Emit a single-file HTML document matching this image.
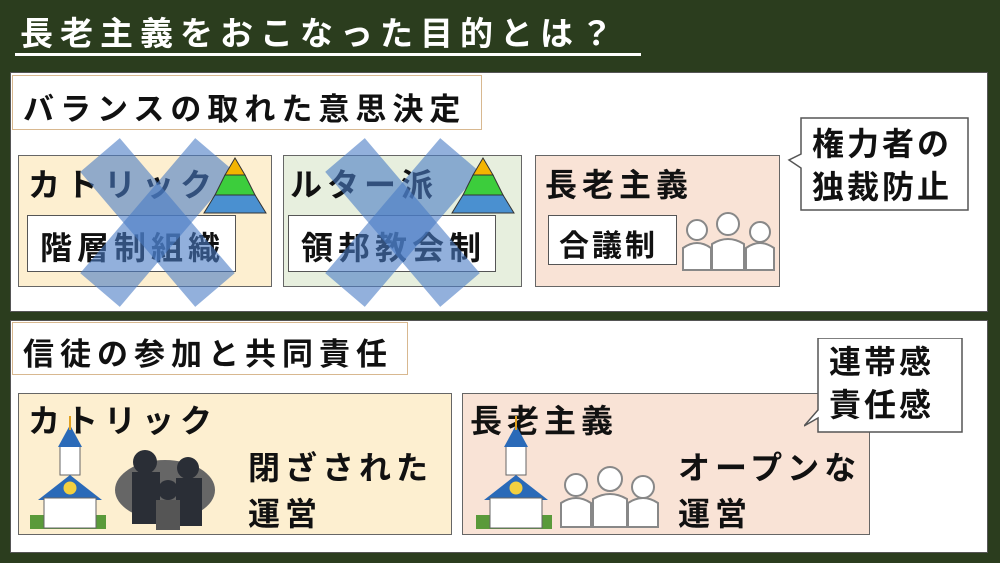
<!DOCTYPE html>
<html><head><meta charset="utf-8"><style>
body{margin:0;width:1000px;height:563px;background:#2b3d1e;position:relative;overflow:hidden;font-family:"Liberation Sans","Noto Sans CJK JP",sans-serif;}
.a{position:absolute;box-sizing:border-box;}
.t{white-space:nowrap;color:#111;font-weight:bold;letter-spacing:5px;}
</style></head><body>
<div class="a t" style="left:20px;top:7px;font-size:33px;color:#fff;letter-spacing:7px">長老主義をおこなった目的とは？</div>
<div class="a" style="left:15px;top:53px;width:626px;height:3px;background:#fff"></div>

<div class="a" style="left:10px;top:72px;width:978px;height:240px;background:#fff;border:1px solid #555"></div>
<div class="a t" style="left:12px;top:75px;width:470px;height:55px;background:#fff;border:1.5px solid #d8b890;font-size:31px;padding:8px 0 0 10px;letter-spacing:6px">バランスの取れた意思決定</div>

<div class="a" style="left:18px;top:155px;width:254px;height:132px;background:#fdefd0;border:1px solid #666"></div>
<div class="a t" style="left:28px;top:160px;font-size:32px;letter-spacing:6px">カトリック</div>
<div class="a t" style="left:27px;top:215px;width:209px;height:57px;background:#fff;border:1px solid #555;font-size:32px;padding:7px 0 0 12px">階層制組織</div>

<div class="a" style="left:283px;top:155px;width:239px;height:132px;background:#e7efde;border:1px solid #666"></div>
<div class="a t" style="left:290px;top:160px;font-size:32px">ルター派</div>
<div class="a t" style="left:288px;top:215px;width:208px;height:57px;background:#fff;border:1px solid #555;font-size:32px;padding:7px 0 0 12px">領邦教会制</div>

<div class="a" style="left:535px;top:155px;width:245px;height:132px;background:#f9e3d6;border:1px solid #666"></div>
<div class="a t" style="left:545px;top:160px;font-size:32px">長老主義</div>
<div class="a t" style="left:548px;top:215px;width:129px;height:50px;background:#fff;border:1px solid #555;font-size:30px;padding:5px 0 0 10px;letter-spacing:3px">合議制</div>

<svg class="a" style="left:0;top:0" width="1000" height="563">
<g fill="none" stroke="#4a7cc4" stroke-opacity="0.6" stroke-width="52">
<line x1="100" y1="155" x2="215" y2="290"/><line x1="215" y1="155" x2="100" y2="290"/>
<line x1="345" y1="155" x2="460" y2="290"/><line x1="460" y1="155" x2="345" y2="290"/>
</g>
<g stroke="#333" stroke-width="1">
<polygon points="235,158 245,175 225,175" fill="#f4b400"/>
<polygon points="225,175 245,175 255,195 215,195" fill="#3ccd3c"/>
<polygon points="215,195 255,195 266,213 204,213" fill="#4a90d0"/>
<polygon points="483,158 493,175 473,175" fill="#f4b400"/>
<polygon points="473,175 493,175 503,195 463,195" fill="#3ccd3c"/>
<polygon points="463,195 503,195 514,213 452,213" fill="#4a90d0"/>
</g>
<g fill="#fff" stroke="#888" stroke-width="2">
<circle cx="697" cy="230" r="10"/><path d="M683 270 v-22 q14-10 28 0 v22z"/>
<circle cx="728" cy="224" r="11"/><path d="M712 270 v-26 q16-10 32 0 v26z"/>
<circle cx="760" cy="232" r="10"/><path d="M746 270 v-22 q14-10 28 0 v22z"/>
</g>
<path d="M801 118 h167 v92 h-167 v-42 l-12 -8 l12 -6z" fill="#fff" stroke="#555" stroke-width="1.5"/>
</svg>
<div class="a t" style="left:812px;top:123px;font-size:32px;line-height:43px;letter-spacing:3px">権力者の<br>独裁防止</div>

<div class="a" style="left:10px;top:320px;width:978px;height:233px;background:#fff;border:1px solid #555"></div>
<div class="a t" style="left:12px;top:322px;width:396px;height:53px;background:#fff;border:1.5px solid #d8b890;font-size:31px;padding:6px 0 0 10px;letter-spacing:6px">信徒の参加と共同責任</div>
<div class="a t" style="left:829px;top:341px;font-size:32px;line-height:43px;z-index:2;letter-spacing:3px">連帯感<br>責任感</div>
<svg class="a" style="left:804px;top:338px;z-index:1" width="160" height="96"><path d="M14 0 h144 v94 h-144 v-14 l-14 8 l14 -16z" fill="#fff" stroke="#555" stroke-width="1.5"/></svg>

<div class="a" style="left:18px;top:393px;width:434px;height:142px;background:#fdefd0;border:1px solid #666"></div>
<div class="a t" style="left:28px;top:396px;font-size:32px;letter-spacing:6px">カトリック</div>
<div class="a t" style="left:248px;top:445px;font-size:32px;line-height:46px">閉ざされた<br>運営</div>

<div class="a" style="left:462px;top:393px;width:408px;height:142px;background:#f9e3d6;border:1px solid #666"></div>
<div class="a t" style="left:470px;top:396px;font-size:32px">長老主義</div>
<div class="a t" style="left:678px;top:445px;font-size:32px;line-height:46px">オープンな<br>運営</div>

<svg class="a" style="left:0;top:0;z-index:3" width="1000" height="563">
<g id="ch">
<rect x="30" y="515" width="76" height="14" fill="#5a9a3a"/>
<rect x="60" y="445" width="20" height="30" fill="#fff" stroke="#666"/>
<polygon points="70,425 58,447 82,447" fill="#2a6ab8"/>
<line x1="70" y1="430" x2="70" y2="416" stroke="#e0a020" stroke-width="2"/>
<polygon points="70,475 38,500 102,500" fill="#2a6ab8"/>
<rect x="44" y="498" width="52" height="30" fill="#fff" stroke="#666"/>
<circle cx="70" cy="488" r="7" fill="#f4d040" stroke="#2a6ab8"/>
</g>
<use href="#ch" x="446"/>
<ellipse cx="165" cy="490" rx="50" ry="30" fill="#666"/>
<g fill="#2a2e36"><circle cx="145" cy="462" r="12"/><rect x="132" y="472" width="28" height="52"/>
<circle cx="188" cy="468" r="11"/><rect x="176" y="478" width="26" height="48"/>
<circle cx="168" cy="490" r="10"/><rect x="156" y="500" width="24" height="30" fill="#555"/></g>
<g fill="#fff" stroke="#888" stroke-width="2">
<circle cx="576" cy="485" r="11"/><path d="M561 527 v-24 q15-10 30 0 v24z"/>
<circle cx="610" cy="479" r="12"/><path d="M593 527 v-28 q17-10 34 0 v28z"/>
<circle cx="643" cy="487" r="11"/><path d="M628 527 v-24 q15-10 30 0 v24z"/>
</g>
</svg>
</body></html>
